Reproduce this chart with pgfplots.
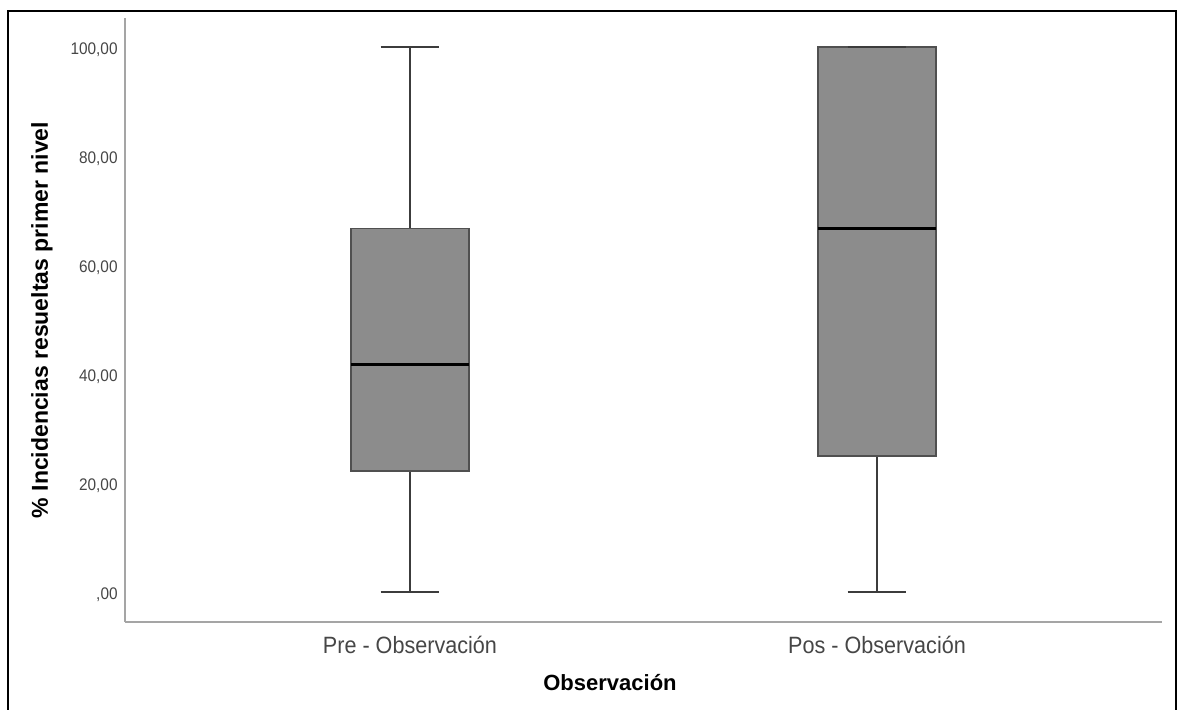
\documentclass[border=0pt]{standalone}
\usepackage{fontspec}
\setmainfont{Liberation Sans}
\newfontfamily\condfont[FakeStretch=0.915]{Liberation Sans}
\usepackage{pgfplots}
\pgfplotsset{compat=1.18}
\definecolor{boxfill}{RGB}{140,140,140}
\definecolor{boxedge}{RGB}{80,80,80}
\definecolor{whisk}{RGB}{60,60,60}
\definecolor{spine}{RGB}{165,165,165}
\definecolor{ticktext}{RGB}{70,70,70}
\begin{document}
\begin{tikzpicture}
\begin{axis}[
  at={(62.5pt,43.5pt)}, anchor=south west,
  scale only axis, width=518.5pt, height=302pt,
  xmin=0.39, xmax=2.61, ymin=-5.5, ymax=105.32,
  axis x line*=bottom, axis y line*=left,
  axis line style={draw=spine, line width=1pt},
  xtick={1,2}, xticklabels={Pre - Observación, Pos - Observación},
  ytick={0,20,40,60,80,100},
  yticklabels={{,00},{20,00},{40,00},{60,00},{80,00},{100,00}},
  tick style={draw=none},
  xticklabel style={font=\condfont\fontsize{11.8}{14}\selectfont, text=ticktext, anchor=base, yshift=-15.5pt},
  yticklabel style={font=\condfont\fontsize{8.4}{10}\selectfont, text=ticktext, anchor=east, inner sep=0pt, xshift=-3.5pt, yshift=-1.5pt},
  xlabel={Observación},
  ylabel={\% Incidencias resueltas primer nivel},
  xlabel style={at={(axis description cs:0.4677,-0.101)}, anchor=center, font=\bfseries\fontsize{11}{13}\selectfont},
  ylabel style={at={(axis description cs:-0.080,0.5)}, anchor=center, font=\bfseries\fontsize{11.5}{13}\selectfont},
  clip=false,
]
% Pre - Observacion: min 0, Q1 22.22, median 41.67, Q3 66.67, max 100
\addplot[whisk, line width=0.8pt] coordinates {(1,66.67) (1,100)};
\addplot[whisk, line width=0.8pt] coordinates {(0.937,100) (1.063,100)};
\addplot[whisk, line width=0.8pt] coordinates {(1,22.22) (1,0)};
\addplot[whisk, line width=0.8pt] coordinates {(0.937,0) (1.063,0)};
\addplot[draw=boxedge, fill=boxfill, line width=0.75pt] coordinates {(0.8737,22.22) (1.1263,22.22) (1.1263,66.67) (0.8737,66.67)} -- cycle;
\addplot[black, line width=1.5pt] coordinates {(0.8737,41.67) (1.1263,41.67)};
% Pos - Observacion: min 0, Q1 25, median 66.67, Q3 100, max 100
\addplot[whisk, line width=0.8pt] coordinates {(2,25) (2,0)};
\addplot[whisk, line width=0.8pt] coordinates {(1.937,0) (2.063,0)};
\addplot[draw=boxedge, fill=boxfill, line width=0.75pt] coordinates {(1.8737,25) (2.1263,25) (2.1263,100) (1.8737,100)} -- cycle;
\addplot[whisk, line width=0.8pt] coordinates {(1.937,100) (2.063,100)};
\addplot[black, line width=1.5pt] coordinates {(1.8737,66.67) (2.1263,66.67)};
\end{axis}
\draw[line width=1.2pt, black] (4pt,-2pt) -- (4pt,349pt) -- (588pt,349pt) -- (588pt,-2pt);
\pgfresetboundingbox
\useasboundingbox (0,0) rectangle (590pt,354.5pt);
\end{tikzpicture}
\end{document}
